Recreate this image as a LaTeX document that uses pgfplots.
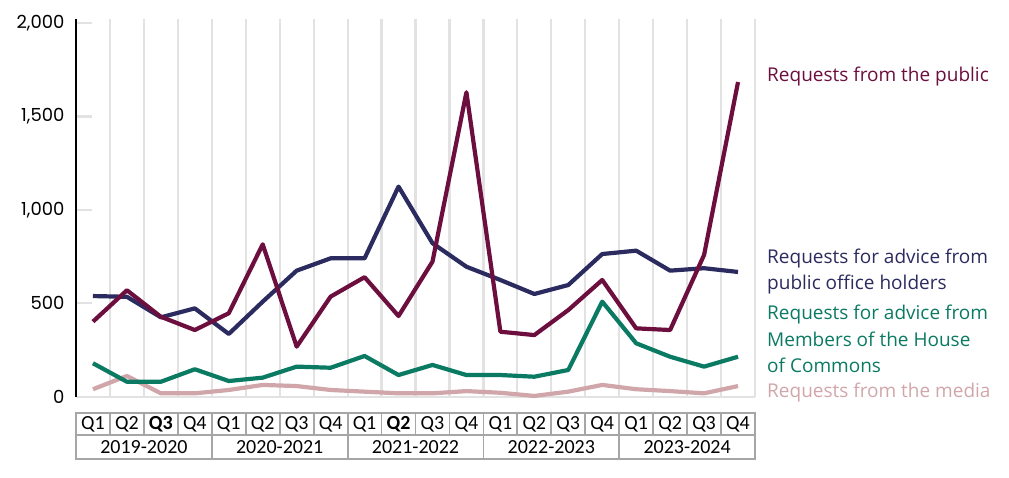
\documentclass[border=0pt]{standalone}
\usepackage{pgfplots}
\pgfplotsset{compat=1.18}
\usepackage{fontspec}
\setmainfont{Carlito}
\newfontfamily\tickfont{Poppins}
\newfontfamily\labfont{Open Sans}
\definecolor{cpub}{HTML}{6C0F3F}
\definecolor{cpoh}{HTML}{2B2B5F}
\definecolor{ccom}{HTML}{0B7A63}
\definecolor{cmed}{HTML}{D1A6AA}
\definecolor{cgrid}{HTML}{E2E2E2}
\definecolor{ctab}{HTML}{A6A6A6}
\begin{document}
\begin{tikzpicture}[x=1pt,y=1pt]
\useasboundingbox (0,0) rectangle (1009,478);
\begin{axis}[
  at={(76pt,81.3pt)}, anchor=south west,
  scale only axis, width=679pt, height=377.2pt,
  xmin=-0.5, xmax=19.5, ymin=0, ymax=2020,
  xtick={0.5,1.5,...,19.5},
  xticklabels={},
  xtick style={draw=none},
  xmajorgrids=true,
  major x grid style={cgrid, line width=2.2pt},
  ytick={0,500,1000,1500,2000},
  ytick style={cgrid, line width=2.2pt},
  major tick length=16pt,
  tick align=inside,
  ytick pos=left,
  yticklabel style={font=\tickfont\fontsize{18}{20}\selectfont, xshift=-8pt},
  /pgf/number format/assume math mode=true,
  /pgf/number format/1000 sep={,},
  axis line style={draw=none},
  clip=false,
]
\draw[cgrid, line width=2.2pt] (axis cs:-0.5,0) -- (axis cs:19.5,0);
\draw[black, line width=2.8pt] (axis cs:-0.5,0) -- (axis cs:-0.5,2020);
% Requests from the media
\addplot[cmed, line width=4.2pt, line join=round] coordinates {
(0,40) (1,111) (2,18) (3,18) (4,36) (5,63) (6,57) (7,36) (8,27) (9,18)
(10,18) (11,30) (12,21) (13,4) (14,27) (15,63) (16,40) (17,30) (18,18) (19,57)};
% Members of the House of Commons
\addplot[ccom, line width=4.2pt, line join=round] coordinates {
(0,179) (1,80) (2,80) (3,147) (4,84) (5,102) (6,161) (7,155) (8,218) (9,116)
(10,170) (11,116) (12,116) (13,107) (14,143) (15,509) (16,286) (17,214) (18,161) (19,214)};
% Public office holders
\addplot[cpoh, line width=4.2pt, line join=round] coordinates {
(0,539) (1,535) (2,425) (3,473) (4,336) (5,509) (6,675) (7,741) (8,741) (9,1125)
(10,822) (11,696) (12,625) (13,550) (14,598) (15,764) (16,782) (17,675) (18,688) (19,668)};
% Requests from the public
\addplot[cpub, line width=4.2pt, line join=round] coordinates {
(0,402) (1,570) (2,428) (3,357) (4,447) (5,816) (6,268) (7,536) (8,640) (9,432)
(10,723) (11,1630) (12,348) (13,330) (14,464) (15,625) (16,366) (17,357) (18,759) (19,1685)};
\end{axis}
% category table
\begin{scope}
\draw[ctab, line width=1.8pt] (76,19) rectangle (755,65);
\draw[ctab, line width=1.8pt] (76,43) -- (755,43);
\foreach \i in {1,...,19} {
  \pgfmathsetmacro{\xx}{76+33.95*\i}
  \draw[ctab, line width=1.8pt] (\xx,43) -- (\xx,65);
}
\foreach \i in {1,2,3,4} {
  \pgfmathsetmacro{\xx}{76+33.95*4*\i}
  \draw[ctab, line width=1.8pt] (\xx,19) -- (\xx,43);
}
\foreach \y [count=\k from 0] in {2019-2020,2020-2021,2021-2022,2022-2023,2023-2024} {
  \pgfmathsetmacro{\xx}{76+33.95*(4*\k+2)}
  \node[font=\fontsize{20}{22}\selectfont] at (\xx,31) {\y};
  \foreach \q in {1,2,3,4} {
    \pgfmathsetmacro{\qx}{76+33.95*(4*\k+\q-0.5)}
    \pgfmathtruncatemacro{\isbold}{(\k==0 && \q==3) || (\k==2 && \q==2) ? 1 : 0}
    \ifnum\isbold=1
      \node[font=\fontsize{20}{22}\selectfont\bfseries] at (\qx,54) {Q\q};
    \else
      \node[font=\fontsize{20}{22}\selectfont] at (\qx,54) {Q\q};
    \fi
  }
}
\end{scope}
% labels
\begin{scope}[every node/.style={anchor=base west, inner sep=0pt, font=\labfont\fontsize{19}{26}\selectfont}]
\node[text=cpub] at (767,396) {Requests from the public};
\node[text=cpoh] at (767,214) {Requests for advice from};
\node[text=cpoh] at (767,188) {public office holders};
\node[text=ccom] at (767,158) {Requests for advice from};
\node[text=ccom] at (767,131.5) {Members of the House};
\node[text=ccom] at (767,105) {of Commons};
\node[text=cmed] at (767,80) {Requests from the media};
\end{scope}
\end{tikzpicture}
\end{document}
